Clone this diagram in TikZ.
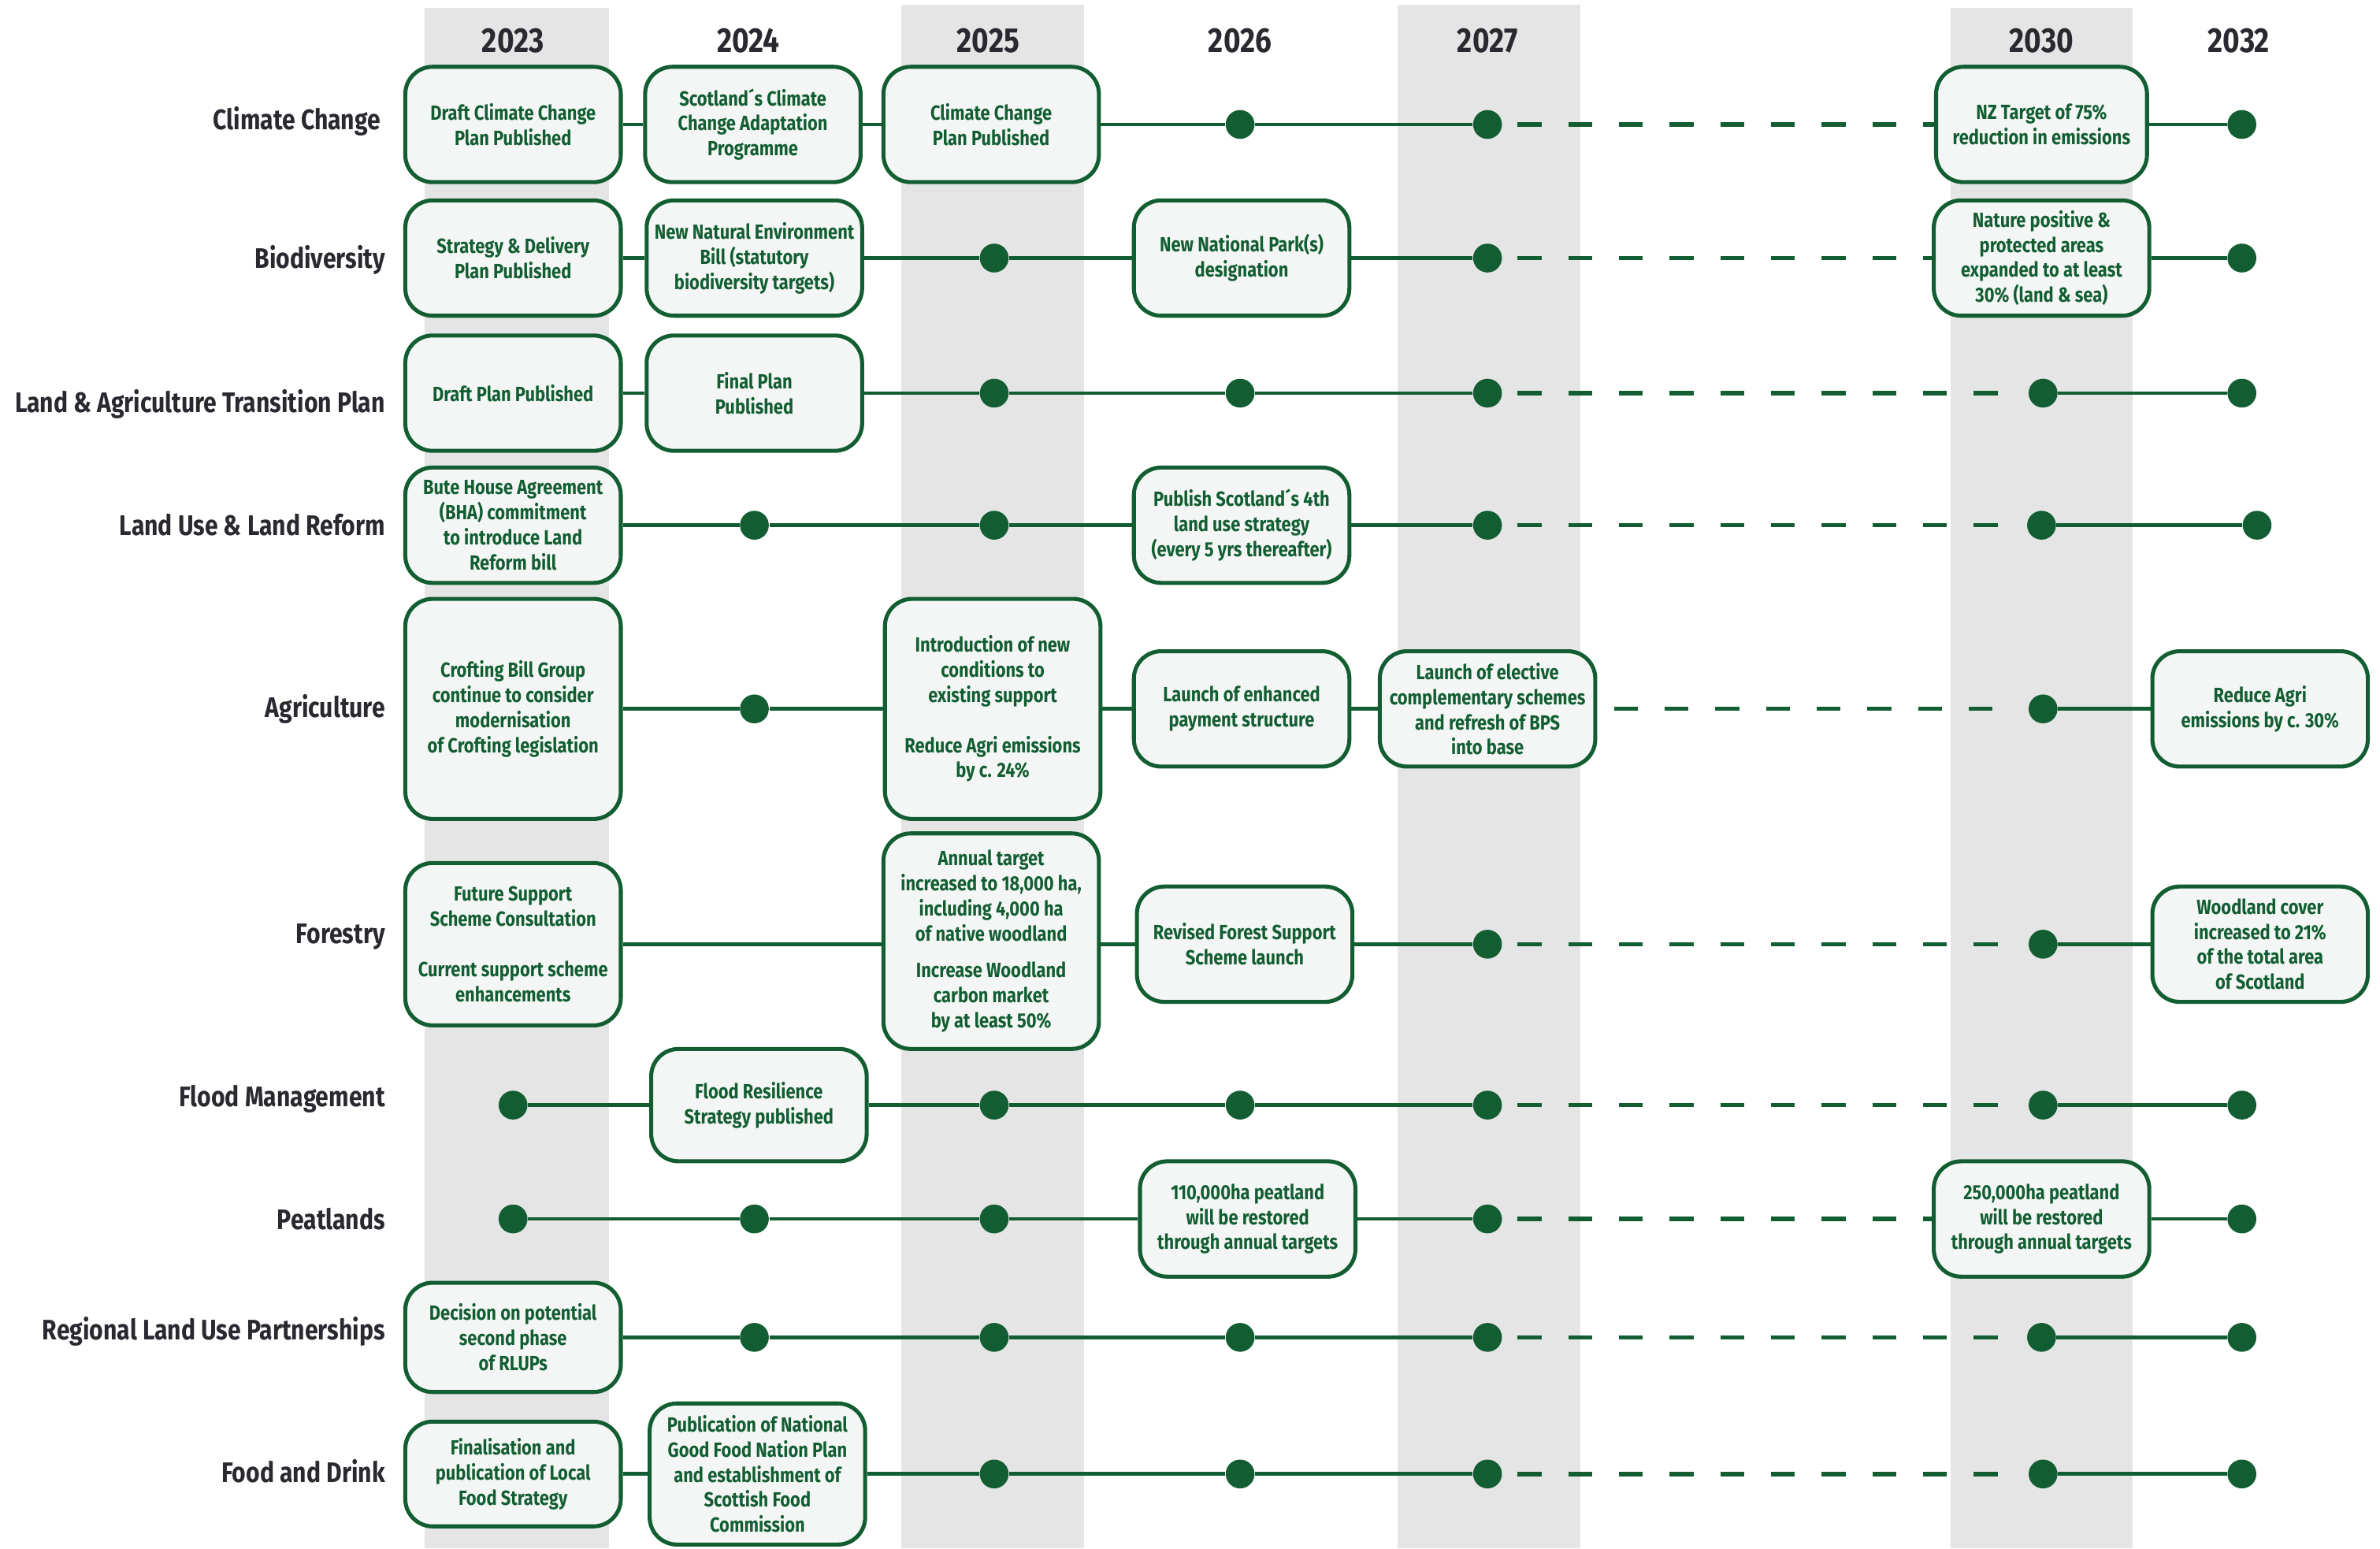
\documentclass[tikz,border=0pt]{standalone}
\usepackage{fontspec}
\newfontfamily\cf{Fira Sans}[FakeStretch=0.84]
\definecolor{gr}{RGB}{18,94,50}
\definecolor{lab}{RGB}{40,42,48}
\definecolor{band}{RGB}{229,229,229}
\definecolor{bfill}{RGB}{244,246,245}
\begin{document}
\begin{tikzpicture}[x=0.02cm,y=-0.02cm,
 ebox/.style={draw=gr, fill=bfill, line width=1.5pt, rounded corners=0.36cm, minimum width=2.84cm, minimum height=1.52cm, inner sep=0pt, align=center, text=gr, font=\cf\bfseries\fontsize{7.7}{9.4}\selectfont},
 mdot/.style={circle, fill=gr, inner sep=0pt, minimum size=0.38cm},
 conn/.style={draw=gr, line width=1.4pt},
 dashline/.style={draw=gr, line width=1.6pt, dash pattern=on 9pt off 10pt},
 rowlab/.style={anchor=east, text=lab, inner sep=0pt, font=\cf\bfseries\fontsize{10.6}{12}\selectfont},
 yearlab/.style={text=lab, inner sep=0pt, font=\cf\bfseries\fontsize{13}{14}\selectfont}]
\useasboundingbox (0,0) rectangle (1568,1020);
\fill[white] (0,0) rectangle (1568,1020);
% bands
\fill[band] (280,5) rectangle (401,1020);
\fill[band] (594,3) rectangle (714,1020);
\fill[band] (921,3) rectangle (1041,1020);
\fill[band] (1285,5) rectangle (1405,1020);
% years
\node[yearlab] (y23) at (338,27) {2023};
\node[yearlab] (y24) at (493,27) {2024};
\node[yearlab] (y25) at (651,27) {2025};
\node[yearlab] (y26) at (817,27) {2026};
\node[yearlab] (y27) at (980,27) {2027};
\node[yearlab] (y30) at (1345,27) {2030};
\node[yearlab] (y32) at (1475,27) {2032};
% row labels
\node[rowlab] (l1) at (251,80) {Climate Change};
\node[rowlab] (l2) at (254,171) {Biodiversity};
\node[rowlab] (l3) at (254,266) {Land \& Agriculture Transition Plan};
\node[rowlab] (l4) at (254,346) {Land Use \& Land Reform};
\node[rowlab] (l5) at (254,467) {Agriculture};
\node[rowlab] (l6) at (254,617) {Forestry};
\node[rowlab] (l7) at (254,724) {Flood Management};
\node[rowlab] (l8) at (254,803) {Peatlands};
\node[rowlab] (l9) at (254,877) {Regional Land Use Partnerships};
\node[rowlab] (l10) at (254,969) {Food and Drink};
% Climate change
\node[ebox] (cc1) at (338,82) {Draft Climate Change\\Plan Published};
\node[ebox] (cc2) at (496,82) {Scotland´s Climate\\Change Adaptation\\Programme};
\node[ebox] (cc3) at (653,82) {Climate Change\\Plan Published};
\node[mdot] (cc4) at (817,82) {};
\node[mdot] (cc5) at (980,82) {};
\node[ebox, minimum width=2.78cm] (cc6) at (1345,82) {NZ Target of 75\%\\reduction in emissions};
\node[mdot] (cc7) at (1477,82) {};
\draw[conn] (cc1) -- (cc2) -- (cc3) -- (cc4) -- (cc5);
\draw[dashline, shorten <=0.2cm] (cc5) -- (cc6);
\draw[conn] (cc6) -- (cc7);
% Biodiversity
\node[ebox] (bi1) at (338,170) {Strategy \& Delivery\\Plan Published};
\node[ebox] (bi2) at (497,170) {New Natural Environment\\Bill (statutory\\biodiversity targets)};
\node[mdot] (bi3) at (655,170) {};
\node[ebox] (bi4) at (818,170) {New National Park(s)\\designation};
\node[mdot] (bi5) at (980,170) {};
\node[ebox] (bi6) at (1345,170) {Nature positive \&\\protected areas\\expanded to at least\\30\% (land \& sea)};
\node[mdot] (bi7) at (1477,170) {};
\draw[conn] (bi1) -- (bi2) -- (bi3) -- (bi4) -- (bi5);
\draw[dashline, shorten <=0.2cm] (bi5) -- (bi6);
\draw[conn] (bi6) -- (bi7);
% Land & Agriculture Transition Plan
\node[ebox] (la1) at (338,259) {Draft Plan Published};
\node[ebox] (la2) at (497,259) {Final Plan\\Published};
\node[mdot] (la3) at (655,259) {};
\node[mdot] (la4) at (817,259) {};
\node[mdot] (la5) at (980,259) {};
\node[mdot] (la6) at (1346,259) {};
\node[mdot] (la7) at (1477,259) {};
\draw[conn] (la1) -- (la2) -- (la3) -- (la4) -- (la5);
\draw[dashline, shorten <=0.2cm, shorten >=0.36cm] (la5) -- (la6);
\draw[conn] (la6) -- (la7);
% Land Use & Land Reform
\node[ebox] (lu1) at (338,346) {Bute House Agreement\\(BHA) commitment\\to introduce Land\\Reform bill};
\node[mdot] (lu2) at (497,346) {};
\node[mdot] (lu3) at (655,346) {};
\node[ebox] (lu4) at (818,346) {Publish Scotland´s 4th\\land use strategy\\(every 5 yrs thereafter)};
\node[mdot] (lu5) at (980,346) {};
\node[mdot] (lu6) at (1345,346) {};
\node[mdot] (lu7) at (1487,346) {};
\draw[conn] (lu1) -- (lu2) -- (lu3) -- (lu4) -- (lu5);
\draw[dashline, shorten <=0.2cm, shorten >=0.36cm] (lu5) -- (lu6);
\draw[conn] (lu6) -- (lu7);
% Agriculture
\node[ebox, minimum height=2.9cm] (ag1) at (338,467) {Crofting Bill Group\\continue to consider\\modernisation\\of Crofting legislation};
\node[mdot] (ag2) at (497,467) {};
\node[ebox, minimum height=2.9cm] (ag3) at (654,467) {Introduction of new\\conditions to\\existing support\\[9.4pt]Reduce Agri emissions\\by c. 24\%};
\node[ebox] (ag4) at (818,467) {Launch of enhanced\\payment structure};
\node[ebox] (ag5) at (980,467) {Launch of elective\\complementary schemes\\and refresh of BPS\\into base};
\node[mdot] (ag6) at (1346,467) {};
\node[ebox] (ag7) at (1489,467) {Reduce Agri\\emissions by c. 30\%};
\draw[conn] (ag1) -- (ag2) -- (ag3) -- (ag4) -- (ag5);
\draw[dashline, shorten <=0.22cm, shorten >=0.36cm] (ag5) -- (ag6);
\draw[conn] (ag6) -- (ag7);
% Forestry
\node[ebox, minimum height=2.14cm] (fo1) at (338,622) {Future Support\\Scheme Consultation\\[9.4pt]Current support scheme\\enhancements};
\node[ebox, minimum height=2.84cm] (fo2) at (653,620) {Annual target\\increased to 18,000 ha,\\including 4,000 ha\\of native woodland\\[4.4pt]Increase Woodland\\carbon market\\by at least 50\%};
\node[ebox] (fo3) at (820,622) {Revised Forest Support\\Scheme launch};
\node[mdot] (fo4) at (980,622) {};
\node[mdot] (fo5) at (1346,622) {};
\node[ebox] (fo6) at (1489,622) {Woodland cover\\increased to 21\%\\of the total area\\of Scotland};
\draw[conn] (fo1.east |- 0,622) -- (fo2.west |- 0,622);
\draw[conn] (fo2.east |- 0,622) -- (fo3) -- (fo4);
\draw[dashline, shorten <=0.2cm, shorten >=0.36cm] (fo4) -- (fo5);
\draw[conn] (fo5) -- (fo6);
% Flood Management
\node[mdot] (fl1) at (338,728) {};
\node[ebox, minimum height=1.48cm] (fl2) at (500,728) {Flood Resilience\\Strategy published};
\node[mdot] (fl3) at (655,728) {};
\node[mdot] (fl4) at (817,728) {};
\node[mdot] (fl5) at (980,728) {};
\node[mdot] (fl6) at (1346,728) {};
\node[mdot] (fl7) at (1477,728) {};
\draw[conn] (fl1) -- (fl2) -- (fl3) -- (fl4) -- (fl5);
\draw[dashline, shorten <=0.2cm, shorten >=0.36cm] (fl5) -- (fl6);
\draw[conn] (fl6) -- (fl7);
% Peatlands
\node[mdot] (pe1) at (338,803) {};
\node[mdot] (pe2) at (497,803) {};
\node[mdot] (pe3) at (655,803) {};
\node[ebox] (pe4) at (822,803) {110,000ha peatland\\will be restored\\through annual targets};
\node[mdot] (pe5) at (980,803) {};
\node[ebox] (pe6) at (1345,803) {250,000ha peatland\\will be restored\\through annual targets};
\node[mdot] (pe7) at (1477,803) {};
\draw[conn] (pe1) -- (pe2) -- (pe3) -- (pe4) -- (pe5);
\draw[dashline, shorten <=0.2cm] (pe5) -- (pe6);
\draw[conn] (pe6) -- (pe7);
% Regional Land Use Partnerships
\node[ebox, minimum height=1.44cm] (rl1) at (338,881) {Decision on potential\\second phase\\of RLUPs};
\node[mdot] (rl2) at (497,881) {};
\node[mdot] (rl3) at (655,881) {};
\node[mdot] (rl4) at (817,881) {};
\node[mdot] (rl5) at (980,881) {};
\node[mdot] (rl6) at (1345,881) {};
\node[mdot] (rl7) at (1477,881) {};
\draw[conn] (rl1) -- (rl2) -- (rl3) -- (rl4) -- (rl5);
\draw[dashline, shorten <=0.2cm, shorten >=0.36cm] (rl5) -- (rl6);
\draw[conn] (rl6) -- (rl7);
% Food and Drink
\node[ebox, minimum height=1.38cm] (fd1) at (338,971) {Finalisation and\\publication of Local\\Food Strategy};
\node[ebox, minimum height=1.86cm] (fd2) at (499,971) {Publication of National\\Good Food Nation Plan\\and establishment of\\Scottish Food\\Commission};
\node[mdot] (fd3) at (655,971) {};
\node[mdot] (fd4) at (817,971) {};
\node[mdot] (fd5) at (980,971) {};
\node[mdot] (fd6) at (1346,971) {};
\node[mdot] (fd7) at (1477,971) {};
\draw[conn] (fd1) -- (fd2) -- (fd3) -- (fd4) -- (fd5);
\draw[dashline, shorten <=0.2cm, shorten >=0.36cm] (fd5) -- (fd6);
\draw[conn] (fd6) -- (fd7);
\end{tikzpicture}
\end{document}
